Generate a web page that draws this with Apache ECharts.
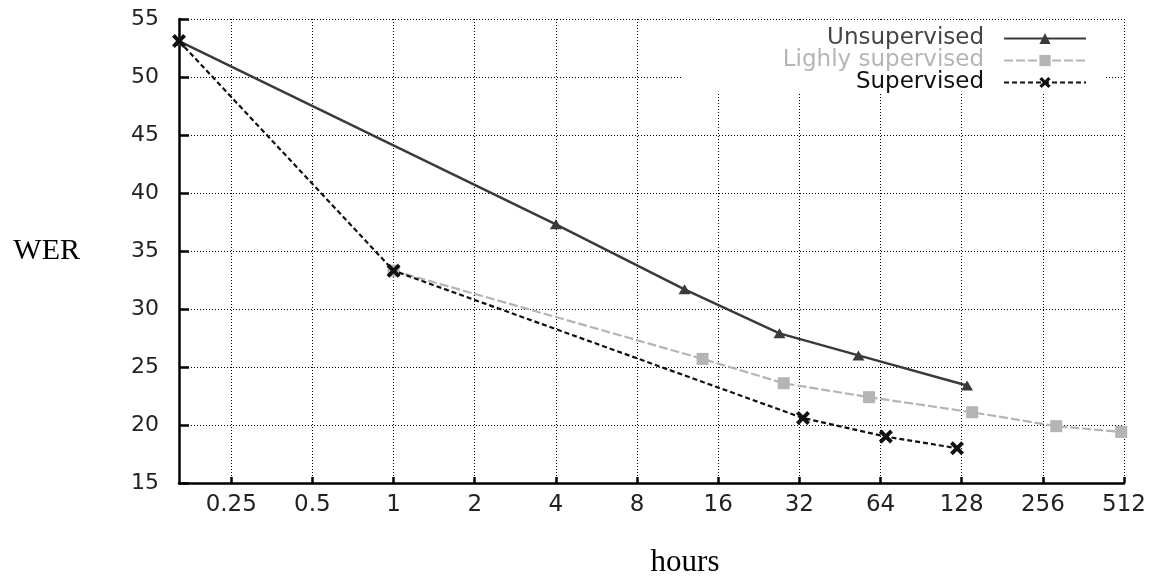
<!DOCTYPE html>
<html>
<head>
<meta charset="utf-8">
<script src="https://cdn.jsdelivr.net/npm/echarts@6/dist/echarts.min.js"></script>
<style>
html,body{margin:0;padding:0;background:#fff;}
#chart{width:1153px;height:583px;}
</style>
</head>
<body>
<div id="chart"></div>
<script>
// x ticks (hours, log2 scale)
const hourTicks = [0.25, 0.5, 1, 2, 4, 8, 16, 32, 64, 128, 256, 512];
// series: hours / WER
const unsupHours = [0.16, 4, 12, 27, 53, 134];
const unsupWer = [53.1, 37.3, 31.7, 27.9, 26.0, 23.4];
const lightHours = [1, 14, 28, 58, 140, 287, 500];
const lightWer = [33.3, 25.7, 23.6, 22.4, 21.1, 19.9, 19.4];
const supHours = [0.16, 1, 33, 67, 123];
const supWer = [53.1, 33.3, 20.6, 19.0, 18.0];

const names = ['Unsupervised', 'Lighly supervised', 'Supervised'];

function pairs(xs, ys) {
	return xs.map(function (x, i) { return [x, ys[i]]; });
}

//X形状的标记
const starPath = 'path://M0,2 L2,0 L5,3 L8,0 L10,2 L7,5 L10,8 L8,10 L5,7 L2,10 L0,8 L3,5 Z';

let myChart = echarts.init(document.getElementById('chart'));
let option = {
	animation: false,
	grid: {left: 179, right: 29, top: 19, bottom: 95},
	legend: {
		orient: 'vertical',
		align: 'right',
		right: 48,
		top: 22,
		itemWidth: 82,
		itemHeight: 14,
		itemGap: -1,
		backgroundColor: '#fff',
		padding: [5, 18, 0, 100],
		textStyle: {fontFamily: 'DejaVu Sans', fontSize: 23, lineHeight: 19, padding: [0, 15, 0, 0]},
		data: [
			{name: names[0], textStyle: {color: '#444'}},
			{name: names[1], textStyle: {color: '#b5b5b5'}},
			{name: names[2], textStyle: {color: '#111'}}
		]
	},
	xAxis: {
		type: 'log',
		logBase: 2,
		min: 0.16,
		max: 512,
		name: 'hours',
		nameLocation: 'middle',
		nameGap: 64,
		nameTextStyle: {fontFamily: 'Liberation Serif', fontSize: 31, color: '#000', padding: [0, 0, 0, 67]},
		axisLine: {lineStyle: {color: '#000', width: 2.5}},
		axisTick: {inside: true, length: 6, customValues: hourTicks, lineStyle: {color: '#000', width: 2.5}},
		axisLabel: {
			customValues: hourTicks,
			margin: 11,
			fontFamily: 'DejaVu Sans',
			fontSize: 23,
			color: '#222',
			formatter: function (v) { return String(v); }
		},
		splitLine: {show: true, lineStyle: {color: '#000', width: 1, type: [1, 2]}}
	},
	yAxis: {
		type: 'value',
		min: 15,
		max: 55,
		interval: 5,
		name: 'WER',
		nameLocation: 'middle',
		nameRotate: 0,
		nameGap: 99,
		nameTextStyle: {fontFamily: 'Liberation Serif', fontSize: 30, color: '#000'},
		axisLine: {show: true, lineStyle: {color: '#000', width: 2.5}},
		axisTick: {show: true, inside: true, length: 10, lineStyle: {color: '#000', width: 2.5}},
		axisLabel: {margin: 20, fontFamily: 'DejaVu Sans', fontSize: 22, color: '#222'},
		splitLine: {show: true, lineStyle: {color: '#000', width: 1, type: [1, 2]}}
	},
	series: [
		{
			name: names[0],
			type: 'line',
			data: pairs(unsupHours, unsupWer),
			symbol: 'triangle',
			symbolSize: [12, 10],
			lineStyle: {color: '#3a3a3a', width: 2.5},
			itemStyle: {color: '#3a3a3a'},
			z: 3
		},
		{
			name: names[1],
			type: 'line',
			data: pairs(lightHours, lightWer),
			symbol: 'rect',
			symbolSize: 12,
			lineStyle: {color: '#b4b4b4', width: 2.2, type: [9, 3]},
			itemStyle: {color: '#b4b4b4'},
			z: 2
		},
		{
			name: names[2],
			type: 'line',
			data: pairs(supHours, supWer),
			symbol: starPath,
			symbolSize: 14,
			lineStyle: {color: '#111', width: 2.2, type: [5, 3]},
			itemStyle: {color: '#111'},
			z: 4
		}
	]
};
myChart.setOption(option);
</script>
</body>
</html>
